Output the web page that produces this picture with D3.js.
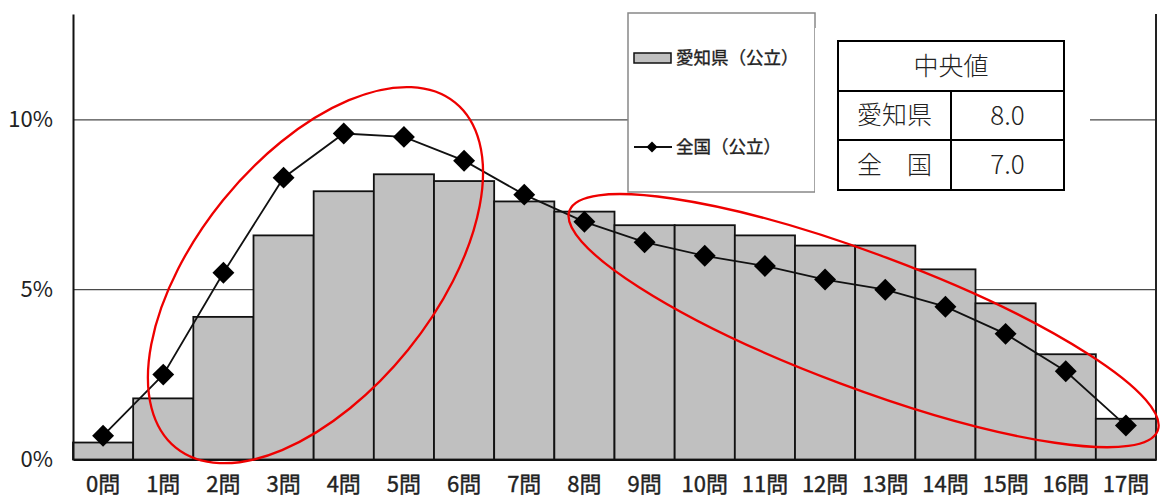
<!DOCTYPE html>
<html lang="ja">
<head>
<meta charset="utf-8">
<script src="https://cdn.jsdelivr.net/npm/d3@7/dist/d3.min.js"></script>
<style>
  html, body { margin: 0; padding: 0; background: #fff; }
  svg { display: block; }
  text { font-family: "Noto Sans CJK JP", "Noto Sans", sans-serif; fill: #222; }
</style>
</head>
<body>
<svg id="chart" width="1160" height="501"></svg>
<script>
// Share of students by number of correct answers (%)
const categories = ["0問","1問","2問","3問","4問","5問","6問","7問","8問","9問",
                    "10問","11問","12問","13問","14問","15問","16問","17問"];
const aichiValues    = [0.5, 1.8, 4.2, 6.6, 7.9, 8.4, 8.2, 7.6, 7.3, 6.9, 6.9, 6.6, 6.3, 6.3, 5.6, 4.6, 3.1, 1.2];
const nationalValues = [0.7, 2.5, 5.5, 8.3, 9.6, 9.5, 8.8, 7.8, 7.0, 6.4, 6.0, 5.7, 5.3, 5.0, 4.5, 3.7, 2.6, 1.0];
const yTicks = [0, 5, 10];
const seriesNames = ["愛知県（公立）", "全国（公立）"];
const medianHeader = "中央値";
const medianLabels = ["愛知県", "全　国"];
const medianValues = ["8.0", "7.0"];

const svg = d3.select("#chart");
const plot = { left: 73, right: 1156, top: 14, bottom: 459.5 };

const x = d3.scaleBand().domain(categories).range([plot.left, plot.right]).padding(0);
const y = d3.scaleLinear().domain([0, 13.12]).range([plot.bottom, plot.top]);

// horizontal gridlines
svg.append("g").selectAll("line")
  .data(yTicks.filter(d => d > 0))
  .join("line")
  .attr("x1", plot.left).attr("x2", plot.right)
  .attr("y1", d => y(d)).attr("y2", d => y(d))
  .attr("stroke", "#4a4a4a").attr("stroke-width", 1.3);

// bars: Aichi
svg.append("g").selectAll("rect")
  .data(categories.map((c, i) => ({ c, v: aichiValues[i] })))
  .join("rect")
  .attr("x", d => x(d.c))
  .attr("width", x.bandwidth())
  .attr("y", d => y(d.v))
  .attr("height", d => y(0) - y(d.v))
  .attr("fill", "#c0c0c0")
  .attr("stroke", "#111")
  .attr("stroke-width", 1.8);

// line: national
const pts = categories.map((c, i) => ({ c, v: nationalValues[i] }));
const line = d3.line().x(d => x(d.c) + x.bandwidth() / 2).y(d => y(d.v));
svg.append("path").datum(pts)
  .attr("d", line).attr("fill", "none")
  .attr("stroke", "#111").attr("stroke-width", 1.8);

const diamond = d3.symbol().type(d3.symbolSquare).size(240);
svg.append("g").selectAll("path")
  .data(pts)
  .join("path")
  .attr("d", diamond)
  .attr("transform", d => `translate(${x(d.c) + x.bandwidth() / 2},${y(d.v)}) rotate(45)`)
  .attr("fill", "#000");

// axes
const yAxis = d3.axisLeft(y).tickValues(yTicks).tickSize(0).tickPadding(20).tickFormat(d => d + "%");
const gy = svg.append("g").attr("transform", `translate(${plot.left},0)`).call(yAxis);
gy.select(".domain").attr("stroke", "#111").attr("stroke-width", 2);
gy.selectAll("text").attr("font-size", 22).attr("font-family", "'Liberation Sans', sans-serif")
  .style("fill", "#222");

const xAxis = d3.axisBottom(x).tickSize(0).tickPadding(17);
const gx = svg.append("g").attr("transform", `translate(0,${plot.bottom})`).call(xAxis);
gx.select(".domain").attr("stroke", "#111").attr("stroke-width", 2);
gx.selectAll("text").attr("font-size", 22).style("fill", "#222")
  .attr("stroke", "#222").attr("stroke-width", 0.4);

// right border of the plot
svg.append("line")
  .attr("x1", plot.right).attr("x2", plot.right)
  .attr("y1", y.range()[1]).attr("y2", y.range()[0])
  .attr("stroke", "#222").attr("stroke-width", 2);

// legend
const lg = svg.append("g");
lg.append("rect").attr("x", 628).attr("y", 13).attr("width", 187).attr("height", 179)
  .attr("fill", "#fff").attr("stroke", "#888").attr("stroke-width", 1.5);
lg.append("rect").attr("x", 634).attr("y", 53).attr("width", 37).attr("height", 10)
  .attr("fill", "#c0c0c0").attr("stroke", "#111").attr("stroke-width", 1.5);
lg.append("line").attr("x1", 634).attr("x2", 672).attr("y1", 147).attr("y2", 147)
  .attr("stroke", "#111").attr("stroke-width", 1.8);
lg.append("path").attr("d", d3.symbol().type(d3.symbolSquare).size(60))
  .attr("transform", "translate(652,147) rotate(45)").attr("fill", "#000");
lg.selectAll("text.name").data(seriesNames).join("text").attr("class", "name")
  .attr("x", 676).attr("y", (d, i) => i === 0 ? 58 : 147)
  .attr("dy", "0.35em").attr("font-size", 17.5)
  .attr("stroke", "#222").attr("stroke-width", 0.35).text(d => d);

// median table
const tb = svg.append("g");
tb.append("rect").attr("x", 815).attr("y", 28).attr("width", 275).attr("height", 170).attr("fill", "#fff");
const tX0 = 838, tX1 = 951, tX2 = 1064, tY = [41, 91, 140, 190];
tb.append("rect").attr("x", tX0).attr("y", tY[0]).attr("width", tX2 - tX0).attr("height", tY[3] - tY[0])
  .attr("fill", "none").attr("stroke", "#000").attr("stroke-width", 2);
[tY[1], tY[2]].forEach(v => tb.append("line").attr("x1", tX0).attr("x2", tX2).attr("y1", v).attr("y2", v)
  .attr("stroke", "#000").attr("stroke-width", 2));
tb.append("line").attr("x1", tX1).attr("x2", tX1).attr("y1", tY[1]).attr("y2", tY[3])
  .attr("stroke", "#000").attr("stroke-width", 2);
tb.append("text").attr("x", (tX0 + tX2) / 2).attr("y", (tY[0] + tY[1]) / 2).attr("dy", "0.35em")
  .attr("text-anchor", "middle").attr("font-size", 25).attr("font-weight", 300).text(medianHeader);
medianLabels.forEach((lab, i) => {
  const cy = (tY[i + 1] + tY[i + 2]) / 2;
  tb.append("text").attr("x", (tX0 + tX1) / 2).attr("y", cy).attr("dy", "0.35em")
    .attr("text-anchor", "middle").attr("font-size", 25).attr("font-weight", 300).text(lab);
  tb.append("text").attr("x", (tX1 + tX2) / 2).attr("y", cy).attr("dy", "0.35em")
    .attr("text-anchor", "middle").attr("font-size", 26).attr("font-weight", 300)
    .attr("font-family", "Lato, sans-serif").text(medianValues[i]);
});

// highlight ellipses, anchored to the data scales
const highlights = [
  { cat: "4問", frac: 0.03, v: 5.43, rx: 222, ry: 119, angle: -51 },
  { cat: "13問", frac: 0.14, v: 4.09, rx: 314, ry: 67, angle: 20.5 }
];
svg.append("g").selectAll("ellipse").data(highlights).join("ellipse")
  .attr("rx", d => d.rx).attr("ry", d => d.ry)
  .attr("transform", d => `translate(${x(d.cat) + d.frac * x.bandwidth()},${y(d.v)}) rotate(${d.angle})`)
  .attr("fill", "none").attr("stroke", "#ee0000").attr("stroke-width", 2.3);
</script>
</body>
</html>
